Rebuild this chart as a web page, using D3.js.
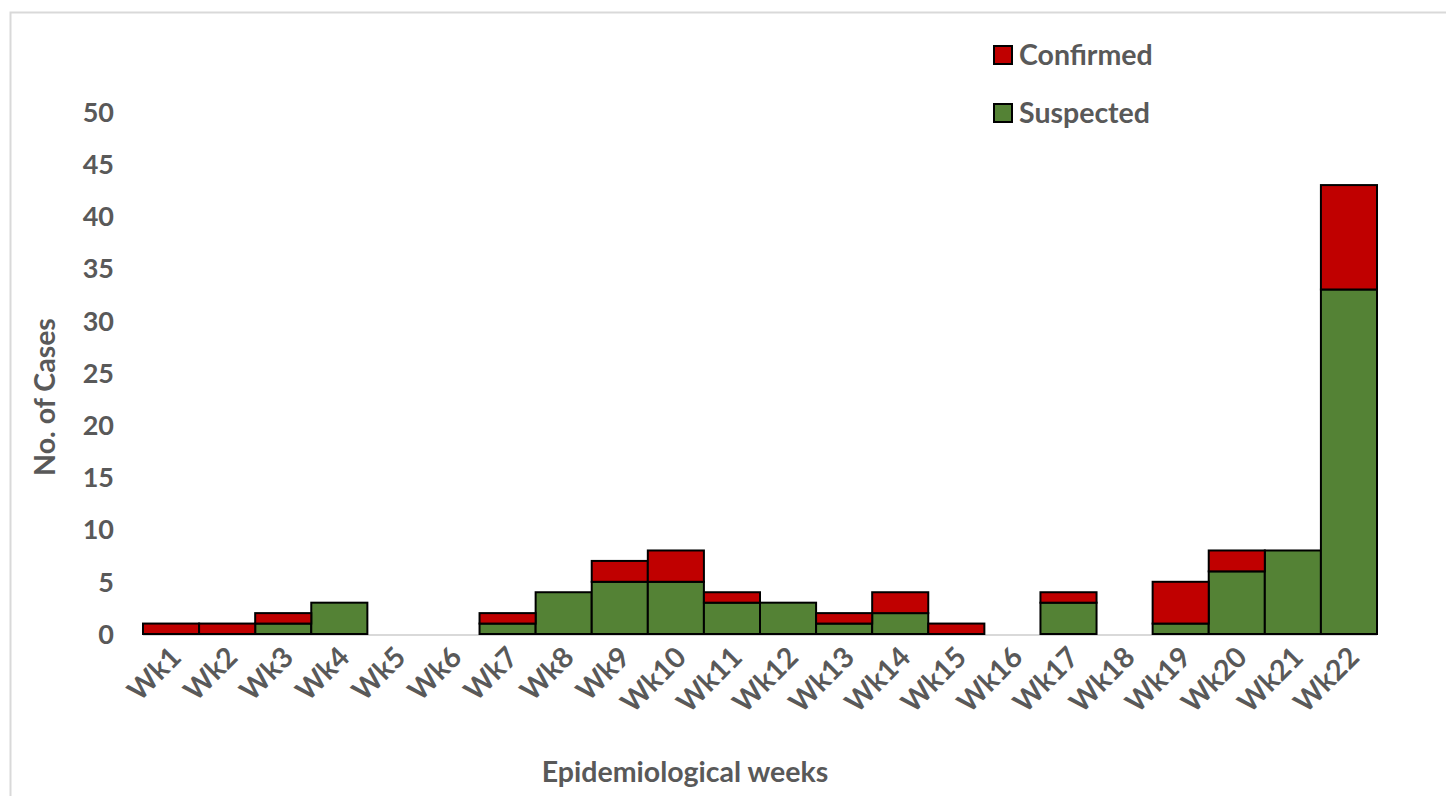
<!DOCTYPE html>
<html lang="en">
<head>
  <meta charset="UTF-8" />
  <title>Cases by Epidemiological Week</title>
  <script src="https://d3js.org/d3.v7.min.js"></script>
  <style>
    body { margin: 0; background: #fff; font-family: "Lato", sans-serif; }
    text { font-weight: bold; fill: #595959; }
  </style>
</head>
<body>
  <div id="chart"></div>
  <script>
    // data
    const weeks = ["Wk1","Wk2","Wk3","Wk4","Wk5","Wk6","Wk7","Wk8","Wk9","Wk10","Wk11",
                   "Wk12","Wk13","Wk14","Wk15","Wk16","Wk17","Wk18","Wk19","Wk20","Wk21","Wk22"];
    const suspected = [0,0,1,3,0,0,1,4,5,5,3,3,1,2,0,0,3,0,1,6,8,33];
    const confirmed = [1,1,1,0,0,0,1,0,2,3,1,0,1,2,1,0,1,0,4,2,0,10];
    const yTicks = [0,5,10,15,20,25,30,35,40,45,50];

    const W = 1446, H = 796;
    const colors = { Suspected: "#548235", Confirmed: "#C00000" };

    const svg = d3.select("#chart").append("svg")
      .attr("width", W).attr("height", H);

    // chart area border
    svg.append("rect")
      .attr("x", 10.5).attr("y", 12.5)
      .attr("width", W).attr("height", H)
      .attr("fill", "none").attr("stroke", "#d9d9d9").attr("stroke-width", 2);

    const x = d3.scaleBand().domain(weeks).range([143, 1377]).padding(0);
    const y = d3.scaleLinear().domain([0, 50]).range([634, 112]);

    const rows = weeks.map((w, i) => ({ week: w, Suspected: suspected[i], Confirmed: confirmed[i] }));
    const stack = d3.stack().keys(["Suspected", "Confirmed"])(rows);

    // y tick labels
    svg.append("g").selectAll("text")
      .data(yTicks)
      .enter().append("text")
      .attr("x", 114)
      .attr("y", d => y(d))
      .attr("dy", "0.36em")
      .attr("text-anchor", "end")
      .style("font-size", "27px")
      .text(d => d);

    // axis baseline
    svg.append("line")
      .attr("x1", x.range()[0]).attr("x2", x.range()[1])
      .attr("y1", y(0) + 1).attr("y2", y(0) + 1)
      .attr("stroke", "#d9d9d9").attr("stroke-width", 2);

    // bars
    svg.append("g").selectAll("g")
      .data(stack)
      .enter().append("g")
      .attr("fill", d => colors[d.key])
      .selectAll("rect")
      .data(d => d.filter(s => s[1] > s[0]))
      .enter().append("rect")
      .attr("x", d => x(d.data.week))
      .attr("y", d => y(d[1]))
      .attr("width", x.bandwidth())
      .attr("height", d => y(d[0]) - y(d[1]))
      .attr("stroke", "#000")
      .attr("stroke-width", 2);

    // x tick labels, rotated
    svg.append("g").selectAll("text")
      .data(weeks)
      .enter().append("text")
      .attr("transform", d => `translate(${x(d) + x.bandwidth() / 2 + 12},${659}) rotate(-45)`)
      .attr("text-anchor", "end")
      .style("font-size", "28.5px")
      .text(d => d);

    // axis titles
    svg.append("text")
      .attr("transform", "translate(55,397) rotate(-90)")
      .attr("text-anchor", "middle")
      .style("font-size", "28.5px")
      .text("No. of Cases");

    svg.append("text")
      .attr("x", 685).attr("y", 782)
      .attr("text-anchor", "middle")
      .style("font-size", "28.5px")
      .text("Epidemiological weeks");

    // legend
    const legend = svg.append("g").selectAll("g")
      .data(["Confirmed", "Suspected"])
      .enter().append("g")
      .attr("transform", (d, i) => `translate(994,${46 + i * 58})`);

    legend.append("rect")
      .attr("width", 18).attr("height", 18)
      .attr("fill", d => colors[d])
      .attr("stroke", "#000").attr("stroke-width", 2);

    legend.append("text")
      .attr("x", 25).attr("y", 9)
      .attr("dy", "0.36em")
      .style("font-size", "28.5px")
      .text(d => d);
  </script>
</body>
</html>
